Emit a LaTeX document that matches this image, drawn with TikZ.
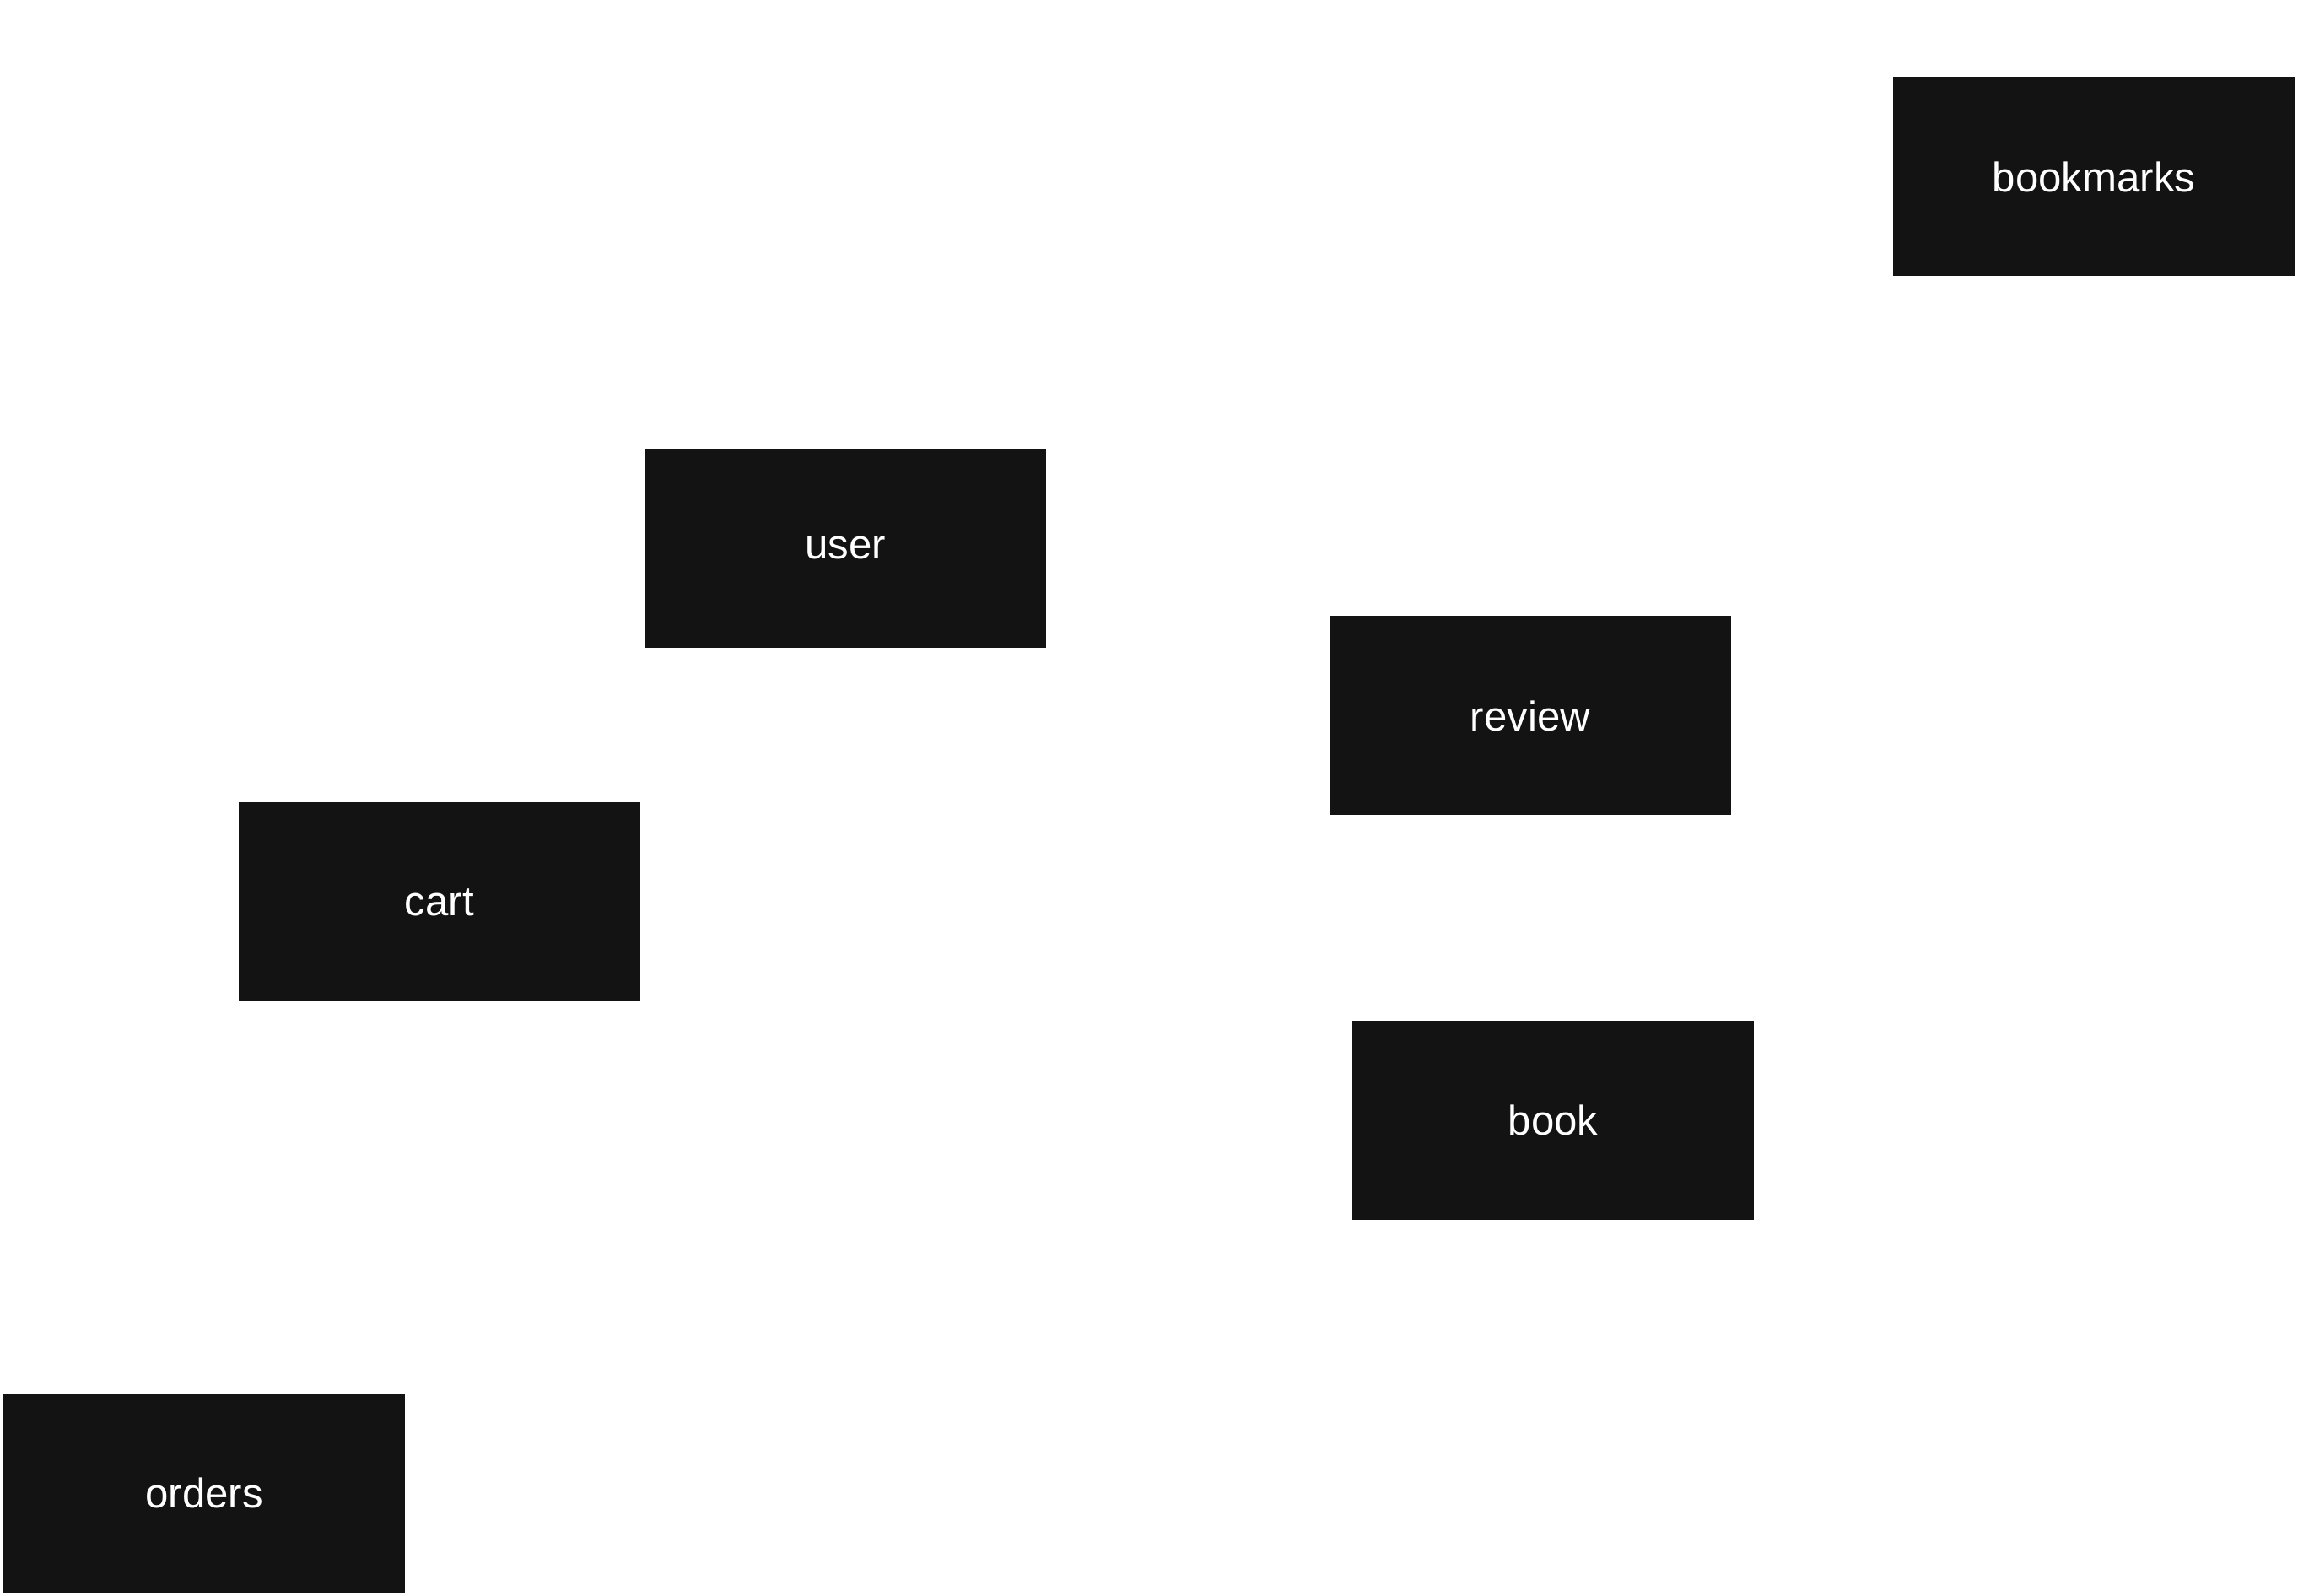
\documentclass[tikz,border=0pt]{standalone}
\usepackage{fontspec}
\setmainfont{Liberation Sans}
\usepackage{xcolor}
\usetikzlibrary{positioning}
\definecolor{tablefill}{HTML}{131313}
\tikzset{tablebox/.style={rectangle,fill=tablefill,text=white,inner sep=0pt,
	minimum width=4.76cm,minimum height=2.36cm,font=\fontsize{14}{17}\selectfont}}

\begin{document}
\begin{tikzpicture}
                        \useasboundingbox (0.000000,0.000000) rectangle (27.240000,18.920000);

                        % Marking table bookmarks
                        \node (bookmarks) [tablebox] at (24.820000,16.825000) {bookmarks};%

                        % Marking table user
                        \node (user) [tablebox] at (10.020000,12.420000) {user};%

                        % Marking table review
                        \node (review) [tablebox] at (18.140000,10.435000) {review};%

                        % Marking table cart
                        \node (cart) [tablebox] at (5.210000,8.225000) {cart};%

                        % Marking table book
                        \node (book) [tablebox] at (18.410000,5.640000) {book};%

                        % Marking table orders
                        \node (orders) [tablebox] at (2.420000,1.220000) {orders};%
                    \end{tikzpicture}
\end{document}
